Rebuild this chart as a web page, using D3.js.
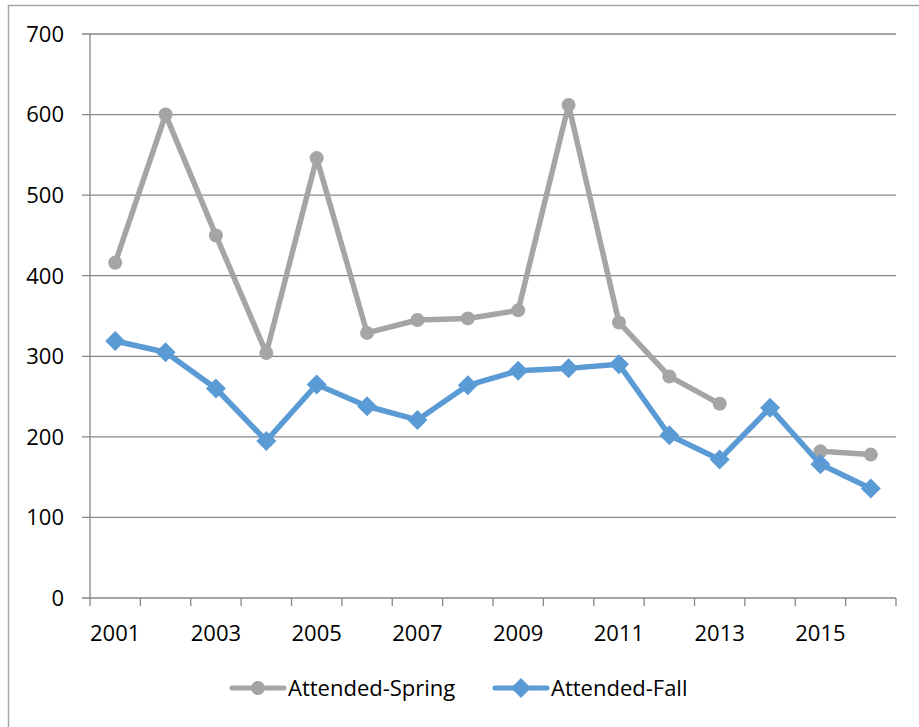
<!DOCTYPE html>
<html><head><meta charset="utf-8">
<script src="https://cdn.jsdelivr.net/npm/d3@7"></script>
<style>body{margin:0;background:#fff;overflow:hidden}svg{display:block}text{font-family:"Open Sans",sans-serif;fill:#000}</style>
</head><body>
<svg id="c" width="919" height="727"></svg>
<script>
const years = ["2001","2002","2003","2004","2005","2006","2007","2008","2009","2010","2011","2012","2013","2014","2015","2016"];
const tickLabels = ["2001","2003","2005","2007","2009","2011","2013","2015"];
const yTicks = [0,100,200,300,400,500,600,700];
const spring = [416,600,450,304,546,329,345,347,357,612,342,275,241,null,182,178];
const fall = [319,305,260,195,265,238,221,264,282,285,290,202,172,236,166,136];
const seriesNames = ["Attended-Spring","Attended-Fall"];

const svg = d3.select("#c");
svg.append("rect").attr("x",8.5).attr("y",5.5).attr("width",1000).attr("height",1000)
  .attr("fill","none").attr("stroke","#a6a6a6").attr("stroke-width",1.5);

const x = d3.scaleBand().domain(years).range([90,896]);
const y = d3.scaleLinear().domain([0,700]).range([598,34]);
const grid = "#868686";
const fs = 22;

svg.append("g").selectAll("line").data(yTicks).join("line")
  .attr("x1",82).attr("x2",x.range()[1]).attr("y1",d=>y(d)).attr("y2",d=>y(d))
  .attr("stroke",grid).attr("stroke-width",1.3);
svg.append("line").attr("x1",90).attr("x2",90).attr("y1",34).attr("y2",598).attr("stroke",grid).attr("stroke-width",1.3);
svg.append("g").selectAll("text").data(yTicks).join("text")
  .attr("x",64).attr("y",d=>y(d)).attr("dy","0.36em").attr("text-anchor","end")
  .attr("font-size",fs).text(d=>d);
const bounds = years.map(d=>x(d)).concat([x.range()[1]]);
svg.append("g").selectAll("line").data(bounds).join("line")
  .attr("x1",d=>d).attr("x2",d=>d).attr("y1",598).attr("y2",606)
  .attr("stroke",grid).attr("stroke-width",1.3);
svg.append("g").selectAll("text").data(tickLabels).join("text")
  .attr("x",d=>x(d)+x.bandwidth()/2).attr("y",633).attr("dy","0.36em").attr("text-anchor","middle")
  .attr("font-size",fs).text(d=>d);

const cx = i => x(years[i]) + x.bandwidth()/2;
const line = d3.line().defined(d=>d!=null).x((d,i)=>cx(i)).y(d=>y(d));
const grey = "#a5a5a5", blue = "#5b9bd5";

svg.append("path").datum(spring).attr("d",line).attr("fill","none").attr("stroke",grey).attr("stroke-width",5.5).attr("stroke-linejoin","round");
svg.append("g").selectAll("circle").data(spring.map((v,i)=>({v,i})).filter(d=>d.v!=null)).join("circle")
  .attr("cx",d=>cx(d.i)).attr("cy",d=>y(d.v)).attr("r",7).attr("fill",grey);

svg.append("path").datum(fall).attr("d",line).attr("fill","none").attr("stroke",blue).attr("stroke-width",5.5).attr("stroke-linejoin","round");
svg.append("g").selectAll("path").data(fall.map((v,i)=>({v,i}))).join("path")
  .attr("d","M0,-10L10,0L0,10L-10,0Z")
  .attr("transform",d=>`translate(${cx(d.i)},${y(d.v)})`).attr("fill",blue);

const ly = 688;
const lg = svg.append("g");
lg.append("line").attr("x1",232).attr("x2",284).attr("y1",ly).attr("y2",ly).attr("stroke",grey).attr("stroke-width",5).attr("stroke-linecap","round");
lg.append("circle").attr("cx",258).attr("cy",ly).attr("r",7).attr("fill",grey);
lg.append("text").attr("x",288).attr("y",ly).attr("dy","0.36em").attr("font-size",fs).text(seriesNames[0]);
lg.append("line").attr("x1",495).attr("x2",547).attr("y1",ly).attr("y2",ly).attr("stroke",blue).attr("stroke-width",5).attr("stroke-linecap","round");
lg.append("path").attr("d","M0,-10L10,0L0,10L-10,0Z").attr("transform",`translate(521,${ly})`).attr("fill",blue);
lg.append("text").attr("x",551).attr("y",ly).attr("dy","0.36em").attr("font-size",fs).text(seriesNames[1]);
</script>
</body></html>
